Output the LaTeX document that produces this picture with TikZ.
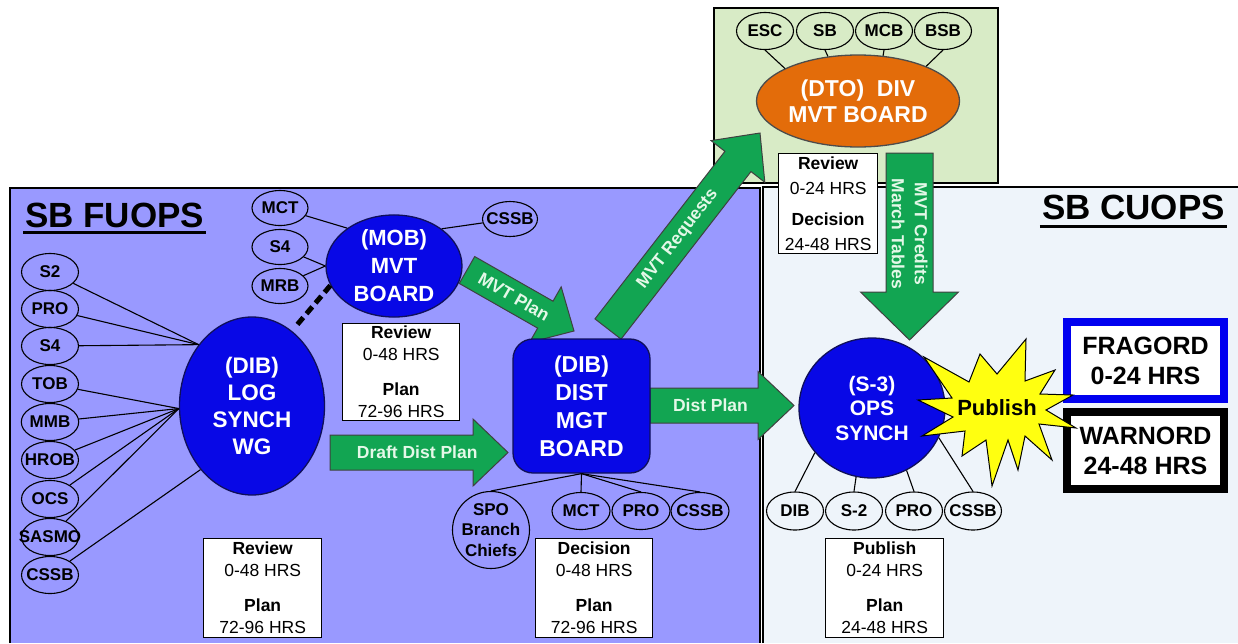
\documentclass[tikz,border=0pt]{standalone}
\usepackage{fontspec}
\setmainfont{Liberation Sans}
\usetikzlibrary{shapes.geometric,calc}

\pgfdeclarelayer{back}
\pgfdeclarelayer{flows}
\pgfsetlayers{back,flows,main}

\definecolor{fuopsbg}{HTML}{9999FF}
\definecolor{cuopsbg}{HTML}{EEF4FA}
\definecolor{divbg}{HTML}{D8EBC6}
\definecolor{boardblue}{HTML}{0808E6}
\definecolor{boardedge}{HTML}{10105A}
\definecolor{dtoorange}{HTML}{E36C0A}
\definecolor{flowgreen}{HTML}{12A552}
\definecolor{flowtext}{HTML}{E4F8E8}
\definecolor{burst}{HTML}{FFFF10}
\definecolor{fragblue}{HTML}{0000F0}

% zero-width text so a node keeps its given size
\newcommand\zw[1]{\makebox[0pt]{#1}}

% wide flow arrow: tail, tip, shaft half-width, head half-width, head length
\newcommand\fatarrow[5]{%
  \coordinate (fa-base) at ($(#2)!#5!(#1)$);
  \filldraw[flowbody]
    ($(#1)!#3!90:(#2)$) -- ($(fa-base)!#3!90:(#2)$) -- ($(fa-base)!#4!90:(#2)$)
    -- (#2)
    -- ($(fa-base)!#4!-90:(#2)$) -- ($(fa-base)!#3!-90:(#2)$) -- ($(#1)!#3!-90:(#2)$)
    -- cycle;
}

\tikzset{
  panel/.style={draw=black, line width=1.8},
  cell/.style={ellipse, draw=black, line width=1.1, minimum width=57, minimum height=37,
    inner sep=0, font=\fontsize{17}{19}\selectfont\bfseries},
  board/.style={ellipse, draw=boardedge, line width=1.3, fill=boardblue, text=white,
    align=center, inner sep=0, font=\fontsize{22.5}{27}\selectfont\bfseries},
  infobox/.style={draw=black, line width=1.4, fill=white, minimum width=118, minimum height=99,
    inner sep=0, align=center, anchor=north west, font=\fontsize{17.5}{22}\selectfont},
  link/.style={line width=1.1, draw=black},
  flowbody/.style={fill=flowgreen, draw=black!75, line width=1},
  flowlabel/.style={text=flowtext, inner sep=0, font=\fontsize{17.5}{22}\selectfont\bfseries},
  title/.style={inner sep=0, font=\fontsize{35}{40}\selectfont\bfseries},
  order/.style={draw, line width=8, fill=white, minimum width=157, minimum height=77,
    inner sep=0, align=center, font=\fontsize{25}{30}\selectfont\bfseries},
}

\begin{document}
\begin{tikzpicture}[x=1pt,y=-1pt]
\useasboundingbox (0,0) rectangle (1238,643);

% ---------- panels ----------
\begin{pgfonlayer}{back}
  \fill[white] (0,0) rectangle (1238,643);
  \fill[fuopsbg] (10,188) rectangle (760,643);
  \draw[panel] (10,643) -- (10,188) -- (760,188) -- (760,643);
  \fill[cuopsbg] (763,187) rectangle (1238,643);
  \draw[panel] (763,643) -- (763,187) -- (1238,187);
  \filldraw[panel, fill=divbg, line width=1.5] (714,8) rectangle (998,183);
\end{pgfonlayer}

% ---------- titles ----------
\node[title, anchor=base west] (fuopstitle) at (25,227) {SB FUOPS};
\draw[line width=3] ([xshift=-2,yshift=-5]fuopstitle.base west) -- ([xshift=2,yshift=-5]fuopstitle.base east);
\node[title, anchor=base east] (cuopstitle) at (1225,219) {SB CUOPS};
\draw[line width=3] ([xshift=-2,yshift=-7]cuopstitle.base west) -- ([xshift=2,yshift=-7]cuopstitle.base east);

% ---------- division movement board ----------
\node[cell] (esc) at (765,31) {ESC};
\node[cell] (sbu) at (825,31) {SB};
\node[cell] (mcb) at (884,31) {MCB};
\node[cell] (bsb) at (943,31) {BSB};
\node[board, fill=dtoorange, draw=black!70, minimum width=203, minimum height=92,
  font=\fontsize{23}{26}\selectfont\bfseries] (dto) at (858,101) {(DTO)~~DIV\\MVT BOARD};
\draw[link] (esc.south) -- (dto.156);
\draw[link] (sbu.south) -- (dto.124);
\draw[link] (mcb.south) -- (dto.61);
\draw[link] (bsb.south) -- (dto.27);
\node[infobox, minimum width=99, minimum height=100, font=\fontsize{17.5}{24.5}\selectfont]
  (divtime) at (778,153) {\textbf{Review}\\0-24 HRS\\[7pt]\textbf{Decision}\\24-48 HRS};

% ---------- log synch working group ----------
\node[cell] (fs2)   at (50,272) {S2};
\node[cell] (fpro)  at (50,309) {PRO};
\node[cell] (fs4)   at (50,346) {S4};
\node[cell] (ftob)  at (50,384) {TOB};
\node[cell] (fmmb)  at (50,422) {MMB};
\node[cell] (fhrob) at (50,460) {\zw{HROB}};
\node[cell] (focs)  at (50,499) {OCS};
\node[cell] (fsas)  at (50,537) {\zw{SASMO}};
\node[cell] (fcssb) at (50,575) {\zw{CSSB}};
\node[board, minimum width=145, minimum height=178] (wg) at (252,406) {(DIB)\\LOG\\SYNCH\\WG};
\draw[link] (fs2) -- (wg.131);
\draw[link] (fpro) -- (wg.131);
\draw[link] (fs4) -- (wg.131);
\draw[link] (ftob) -- (wg.182);
\draw[link] (fmmb) -- (wg.182);
\draw[link] (fhrob) -- (wg.182);
\draw[link] (focs) -- (wg.182);
\draw[link] (fsas) -- (wg.182);
\draw[link] (fcssb) -- (wg.231);
\node[infobox] (wgtime) at (203,538) {\textbf{Review}\\0-48 HRS\\[13pt]\textbf{Plan}\\72-96 HRS};

% ---------- movement board ----------
\node[cell, minimum width=56, minimum height=35] (mmct) at (280,208) {MCT};
\node[cell, minimum width=56, minimum height=35] (ms4)  at (280,247) {S4};
\node[cell, minimum width=56, minimum height=35] (mmrb) at (280,286) {MRB};
\node[cell, minimum width=55, minimum height=35] (mcssb) at (510,219) {\zw{CSSB}};
\node[board, minimum width=136, minimum height=102, font=\fontsize{22}{28}\selectfont\bfseries]
  (mob) at (394,266) {(MOB)\\MVT\\BOARD};
\draw[link] (mmct) -- (mob.141);
\draw[link] (ms4) -- (mob.180);
\draw[link] (mmrb) -- (mob.180);
\draw[link] (mcssb) -- (mob.38);
\draw[line width=5, dash pattern=on 9 off 5, shorten >=4] (mob.197) -- (wg.62);
\node[infobox, minimum width=117, minimum height=97] (mobtime) at (342,323)
  {\textbf{Review}\\0-48 HRS\\[13pt]\textbf{Plan}\\72-96 HRS};

% ---------- distribution management board ----------
\node[board, rectangle, rounded corners=20, minimum width=137, minimum height=134,
  font=\fontsize{23}{28}\selectfont\bfseries] (dist) at (581.5,406) {(DIB)\\DIST\\MGT\\BOARD};
\node[circle, draw=black, line width=1.1, minimum size=77, inner sep=0, align=center,
  font=\fontsize{17}{20.5}\selectfont\bfseries] (spo) at (491,530) {\zw{SPO}\\\zw{Branch}\\\zw{Chiefs}};
\node[cell, minimum width=58] (dmct)  at (581,511) {MCT};
\node[cell, minimum width=58] (dpro)  at (641,511) {PRO};
\node[cell, minimum width=58] (dcssb) at (700,511) {\zw{CSSB}};
\draw[link] (dist.south) -- (spo.north);
\draw[link] (dist.south) -- (dmct.north);
\draw[link] (dist.south) -- (dpro.north);
\draw[link] (dist.south) -- (dcssb.north);
\node[infobox, minimum width=117] (disttime) at (535,538)
  {\textbf{Decision}\\0-48 HRS\\[13pt]\textbf{Plan}\\72-96 HRS};

% ---------- operations synch ----------
\node[board, minimum width=146, minimum height=140, font=\fontsize{21}{24.5}\selectfont\bfseries]
  (ops) at (872,408) {(S-3)\\OPS\\SYNCH};
\node[cell, minimum height=38] (odib)  at (795,511) {DIB};
\node[cell, minimum height=38] (os2)   at (854,511) {S-2};
\node[cell, minimum height=38] (opro)  at (914,511) {PRO};
\node[cell, minimum height=38] (ocssb) at (973,511) {\zw{CSSB}};
\draw[link] (odib.north) -- (ops.218);
\draw[link] (os2.north) -- (ops.257);
\draw[link] (opro.north) -- (ops.299);
\draw[link] (ocssb.north) -- (ops.336);
\node[infobox] (opstime) at (825,538) {\textbf{Publish}\\0-24 HRS\\[13pt]\textbf{Plan}\\24-48 HRS};

% ---------- orders ----------
\node[order, draw=fragblue] (frag) at (1145.5,360.5) {FRAGORD\\0-24 HRS};
\node[order, draw=black] (warn) at (1145.5,450.5) {WARNORD\\24-48 HRS};

% publish burst
\filldraw[fill=burst, draw=black, line width=1]
  (924,357) -- (969,382) -- (980,354) -- (997,374) -- (1026,339) -- (1025,381)
  -- (1055,370) -- (1040,394) -- (1073,395) -- (1046,410) -- (1076,428) -- (1039,424)
  -- (1052,460) -- (1025,436) -- (1018,470) -- (1008,440) -- (992,486) -- (986,440)
  -- (962,456) -- (965,431) -- (922,436) -- (953,417) -- (918,400) -- (952,398) -- cycle;
\node[inner sep=0, font=\fontsize{22}{24}\selectfont\bfseries] (publish) at (997,408) {Publish};

% ---------- flow arrows ----------
\begin{pgfonlayer}{flows}
  \coordinate (reqT) at (608,329);
  \coordinate (reqH) at (760,133);
  \fatarrow{reqT}{reqH}{16.5pt}{34pt}{36pt}
  \path (reqT) -- (reqH) node[flowlabel, sloped, pos=0.46] (reqlbl) {MVT Requests};

  \coordinate (planT) at (467,270);
  \coordinate (planH) at (574,331);
  \fatarrow{planT}{planH}{15.5pt}{32pt}{33pt}
  \path (planT) -- (planH) node[flowlabel, sloped, pos=0.44] (planlbl) {MVT Plan};

  \coordinate (draftT) at (330,452.5);
  \coordinate (draftH) at (508,452.5);
  \fatarrow{draftT}{draftH}{17.5pt}{33.5pt}{35pt}
  \path (draftT) -- (draftH) node[flowlabel, pos=0.49] (draftlbl) {Draft Dist Plan};

  \coordinate (distT) at (650,405.5);
  \coordinate (distH) at (794,405.5);
  \fatarrow{distT}{distH}{17.5pt}{34pt}{36pt}
  \path (distT) -- (distH) node[flowlabel, pos=0.42] (distlbl) {Dist Plan};

  \coordinate (credT) at (909.5,153);
  \coordinate (credH) at (909.5,340);
  \fatarrow{credT}{credH}{23.5pt}{49pt}{48pt}
  \node[flowlabel, rotate=-90, align=center, font=\fontsize{17.5}{23}\selectfont\bfseries]
    (credlbl) at (909.5,234) {MVT Credits\\March Tables};
\end{pgfonlayer}
\end{tikzpicture}
\end{document}
